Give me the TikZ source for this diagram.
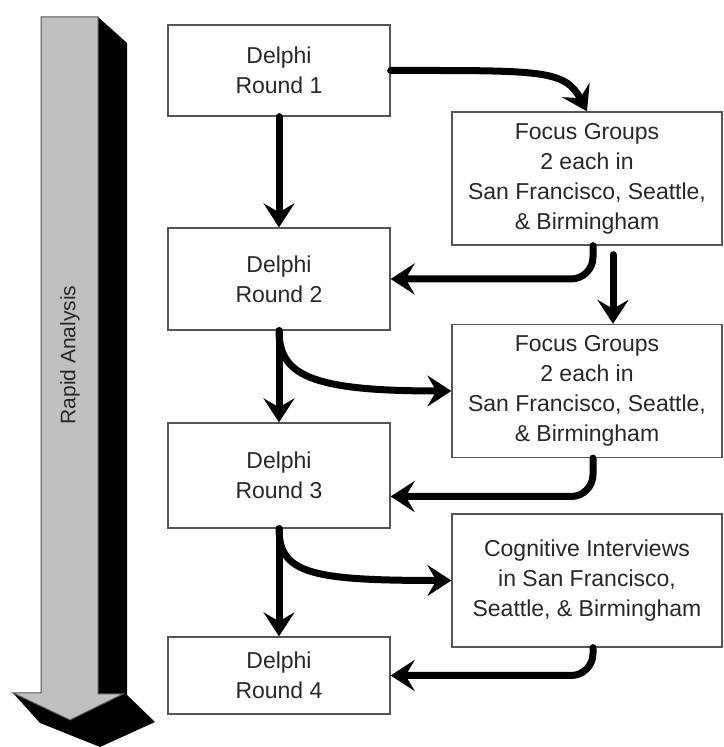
\documentclass[tikz,border=0pt]{standalone}
\usepackage{fontspec}
\setmainfont{Liberation Sans}
\usetikzlibrary{arrows.meta}
\definecolor{shaftGray}{RGB}{192,192,192}
\definecolor{boxLine}{RGB}{85,85,85}
\definecolor{textGray}{RGB}{40,40,40}

\tikzset{
	delphiBox/.style = {draw=boxLine, line width=1.3pt, fill=white, minimum width=222pt, inner sep=0pt, text=textGray, align=center, font=\fontsize{23}{30}\selectfont},
	groupBox/.style = {delphiBox, minimum width=270pt, minimum height=133pt},
	flowArrow/.style = {line width=7pt, line cap=round, -{Stealth[length=24pt, width=31pt, inset=9pt]}}
}

\begin{document}
\begin{tikzpicture} [x = 1pt, y = 1pt]

	\useasboundingbox (0, 0) rectangle (723, 747);

		% Define nodes.

	%delphi rounds
	\node [delphiBox, minimum height=91pt] (round1) at (279, 676.5) {Delphi\\Round 1};
	\node [delphiBox, minimum height=102pt] (round2) at (279, 468) {Delphi\\Round 2};
	\node [delphiBox, minimum height=105pt] (round3) at (279, 271.5) {Delphi\\Round 3};
	\node [delphiBox, minimum height=77pt] (round4) at (279, 71.5) {Delphi\\Round 4};

	%field work
	\node [groupBox] (focus1) at (587, 568.5) {Focus Groups\\2 each in\\San Francisco, Seattle,\\\& Birmingham};
	\node [groupBox] (focus2) at (587, 356) {Focus Groups\\2 each in\\San Francisco, Seattle,\\\& Birmingham};
	\node [groupBox] (interviews) at (587, 166.5) {Cognitive Interviews\\in San Francisco,\\Seattle, \& Birmingham};

% Draw big arrow.

	\fill [black] (98, 730) -- (127, 704) -- (127, 52) -- (155, 25) -- (100, 0) -- (40, 24) -- (13, 54) -- (70, 27) -- (123, 53) -- (98, 53) -- cycle;
	\draw [fill=shaftGray, draw=boxLine, line width=1pt] (41, 730) -- (98, 730) -- (98, 53) -- (123, 53) -- (70, 27) -- (13, 54) -- (41, 54) -- cycle;

	\node [rotate=90, text=textGray, font=\fontsize{21}{25}\selectfont] (rapid) at (70, 392) {Rapid Analysis};

% Draw lines.

	\draw [flowArrow] (round1.south) -- (round2.north);
	\draw [flowArrow] (round2.south) -- (round3.north);
	\draw [flowArrow] (round3.south) -- (round4.north);

	\draw [flowArrow] (round1.east) .. controls +(150, 0) and +(-22, 42) .. (focus1.north);
	\draw [flowArrow] (round2.south) .. controls +(0, -45) and +(-140, 0) .. (focus2.west);
	\draw [flowArrow] (round3.south) .. controls +(0, -45) and +(-140, 0) .. (interviews.west);

	\draw [flowArrow, rounded corners=22pt] ([xshift=6pt]focus1.south) |- (round2.east);
	\draw [flowArrow, rounded corners=22pt] ([xshift=6pt]focus2.south) |- ([yshift=-21pt]round3.east);
	\draw [flowArrow, rounded corners=22pt] ([xshift=6pt]interviews.south) |- (round4.east);

	\draw [flowArrow] ([xshift=26pt, yshift=-9pt]focus1.south) -- ([xshift=26pt]focus2.north);

\end{tikzpicture}
\end{document}
